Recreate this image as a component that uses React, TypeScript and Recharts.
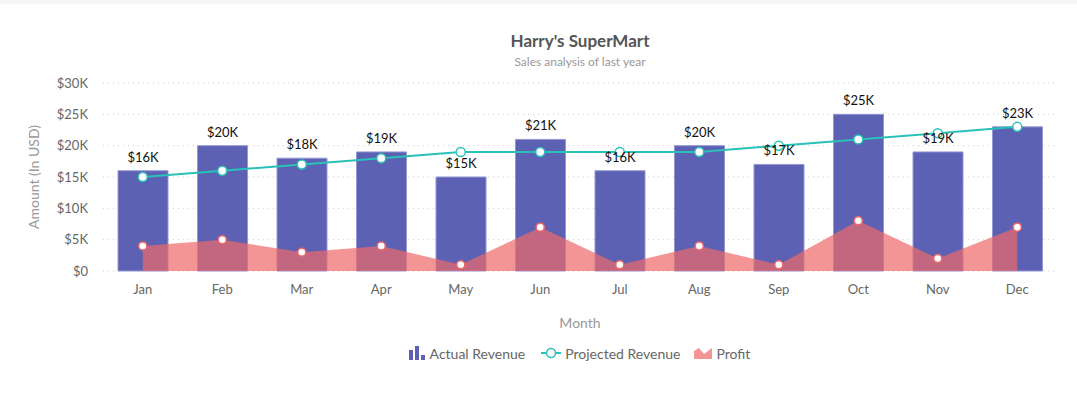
import React from 'react';
import {
  ComposedChart, Bar, Line, Area, XAxis, YAxis, CartesianGrid, Legend, LabelList,
} from 'recharts';

const months = ['Jan', 'Feb', 'Mar', 'Apr', 'May', 'Jun', 'Jul', 'Aug', 'Sep', 'Oct', 'Nov', 'Dec'];
const actualRevenue = [16000, 20000, 18000, 19000, 15000, 21000, 16000, 20000, 17000, 25000, 19000, 23000];
const projectedRevenue = [15000, 16000, 17000, 18000, 19000, 19000, 19000, 19000, 20000, 21000, 22000, 23000];
const profit = [4000, 5000, 3000, 4000, 1000, 7000, 1000, 4000, 1000, 8000, 2000, 7000];
const yTicks = [0, 5000, 10000, 15000, 20000, 25000, 30000];

const data = months.map((m, i) => ({
  month: m,
  actual: actualRevenue[i],
  projected: projectedRevenue[i],
  profit: profit[i],
}));

const FONT = 'Lato, "Open Sans", sans-serif';
const BAR = '#5c61b4';
const TEAL = '#2ac1b8';
const AREA = '#ef6868';

const fmtK = (v: number) => (v === 0 ? '$0' : `$${v / 1000}K`);

const LegendContent = () => (
  <div style={{ display: 'flex', justifyContent: 'center', alignItems: 'center', height: 44, paddingLeft: 102, fontFamily: FONT, fontSize: 14, color: '#666' }}>
    <div style={{ display: 'flex', alignItems: 'center', marginRight: 16 }}>
      <svg width={16} height={14} style={{ marginRight: 5 }}>
        <rect x={0} y={4} width={4} height={10} fill={BAR} />
        <rect x={6} y={0} width={4} height={14} fill={BAR} />
        <rect x={12} y={9} width={4} height={5} fill={BAR} />
      </svg>
      <span>Actual Revenue</span>
    </div>
    <div style={{ display: 'flex', alignItems: 'center', marginRight: 14 }}>
      <svg width={20} height={12} style={{ marginRight: 4 }}>
        <line x1={0} y1={6} x2={20} y2={6} stroke={TEAL} strokeWidth={2} />
        <circle cx={10} cy={6} r={4.5} fill="#fff" stroke={TEAL} strokeWidth={1.5} />
      </svg>
      <span>Projected Revenue</span>
    </div>
    <div style={{ display: 'flex', alignItems: 'center' }}>
      <svg width={18} height={12} style={{ marginRight: 4 }}>
        <path d="M0,12 L0,4 L5,1 L10,7 L18,1 L18,12 Z" fill={AREA} fillOpacity={0.7} />
      </svg>
      <span>Profit</span>
    </div>
  </div>
);

const YLabel = (props: any) => {
  const vb = props.viewBox || { x: 0, y: 0, height: 0 };
  const cx = 33;
  const cy = vb.y + vb.height / 2;
  return (
    <text x={cx} y={cy} transform={`rotate(-90, ${cx}, ${cy})`} textAnchor="middle" dominantBaseline="central"
      fill="#999" fontSize={14} fontFamily={FONT}>
      Amount (In USD)
    </text>
  );
};

export default function App() {
  return (
    <div style={{ position: 'absolute', left: 0, top: 0, width: 1077, height: 398, background: '#fff', fontFamily: FONT }}>
      <div style={{ position: 'absolute', left: 0, top: 0, width: 1077, height: 4, background: '#f6f6f9' }} />
      <div style={{ position: 'absolute', left: 103, width: 954, top: 30, textAlign: 'center', fontSize: 17, fontWeight: 700, color: '#555' }}>
        Harry's SuperMart
      </div>
      <div style={{ position: 'absolute', left: 103, width: 954, top: 54, textAlign: 'center', fontSize: 12, color: '#999' }}>
        Sales analysis of last year
      </div>
      <ComposedChart width={1077} height={398} data={data} margin={{ top: 83, right: 20, left: 0, bottom: 23 }}>
        <CartesianGrid vertical={false} stroke="#ccc" strokeDasharray="1 4" />
        <XAxis dataKey="month" axisLine={false} tickLine={false} tickSize={0} tickMargin={14} height={60}
          tick={{ fill: '#666', fontSize: 13, fontFamily: FONT }}
          label={{ value: 'Month', position: 'insideBottom', offset: 3, fill: '#999', fontSize: 14, fontFamily: FONT }} />
        <YAxis width={103} domain={[0, 30000]} ticks={yTicks} tickFormatter={fmtK} axisLine={false} tickLine={false}
          tickSize={0} tickMargin={15} interval={0}
          tick={{ fill: '#666', fontSize: 13, fontFamily: FONT }}
          label={<YLabel />} />
        <Legend verticalAlign="bottom" wrapperStyle={{ height: 44 }} content={<LegendContent />} />
        <Bar dataKey="actual" name="Actual Revenue" fill={BAR} stroke="#9597d2" strokeWidth={1} barSize={50} isAnimationActive={false}>
          <LabelList dataKey="actual" position="top" offset={9} formatter={(v: any) => fmtK(Number(v))}
            style={{ fill: '#111', fontSize: 13, fontFamily: FONT }} />
        </Bar>
        <Area dataKey="profit" name="Profit" type="linear" fill={AREA} fillOpacity={0.7} stroke="none" zIndex={350}
          dot={{ r: 4, fill: '#fff', stroke: '#ef6868', strokeWidth: 1.5, fillOpacity: 1 }} activeDot={false} isAnimationActive={false} />
        <Line dataKey="projected" name="Projected Revenue" type="linear" stroke={TEAL} strokeWidth={2}
          dot={{ r: 4.5, fill: '#fff', stroke: TEAL, strokeWidth: 1.5 }} activeDot={false} isAnimationActive={false} />
      </ComposedChart>
    </div>
  );
}
